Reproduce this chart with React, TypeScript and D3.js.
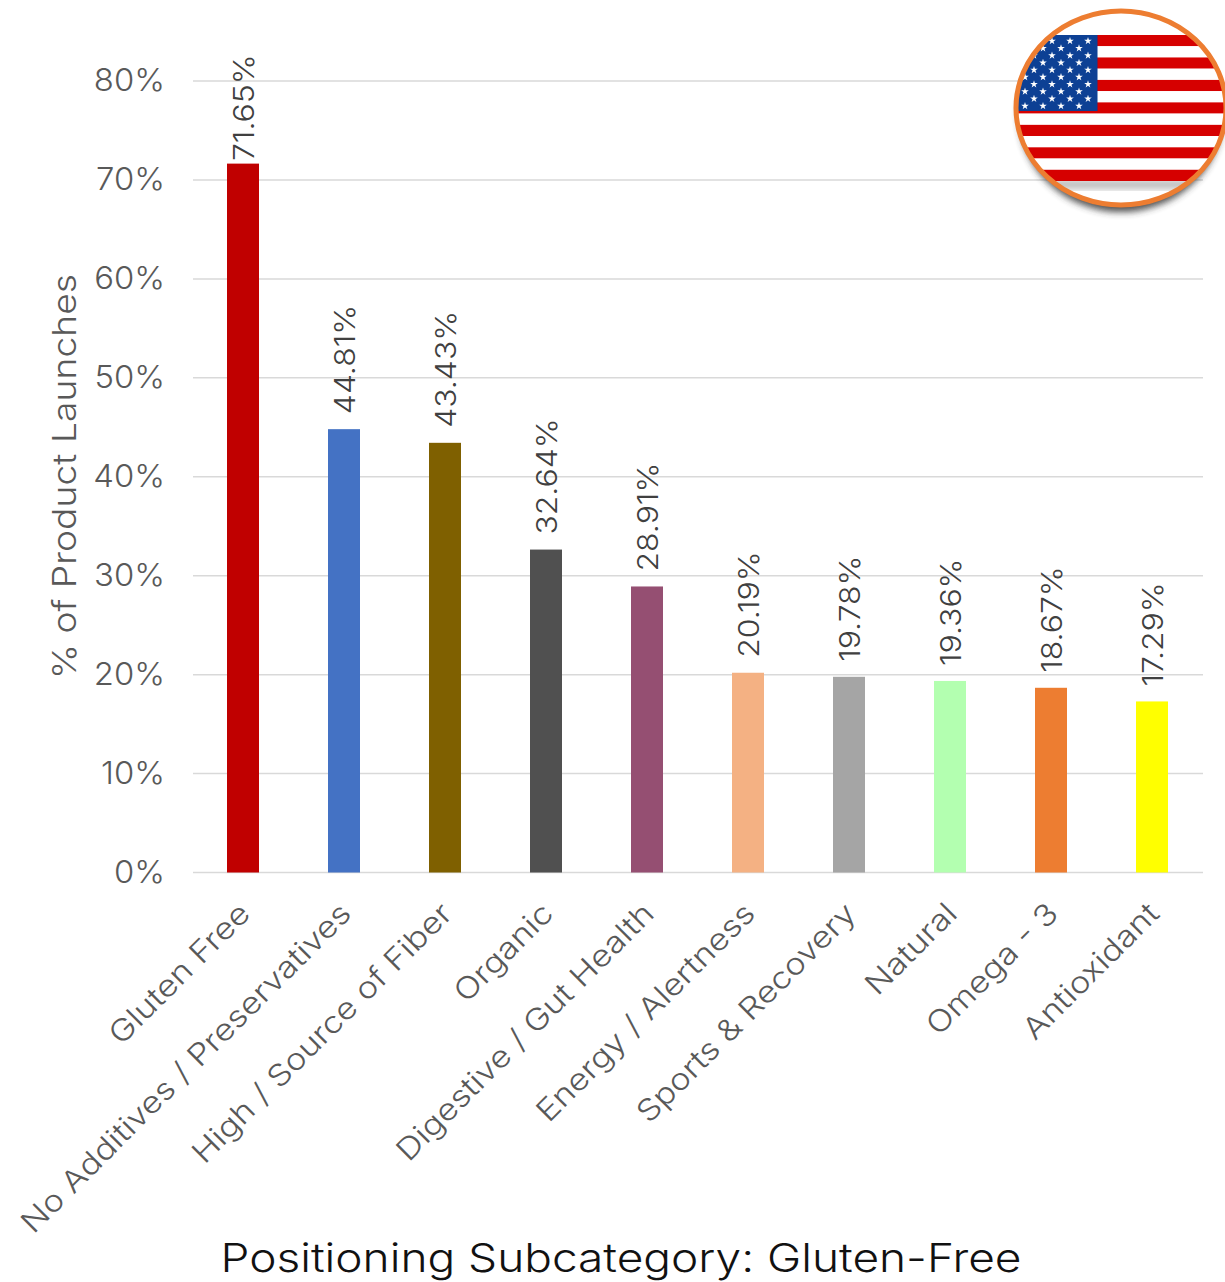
import React from "react";
import * as d3 from "d3";

const categories = [
  "Gluten Free",
  "No Additives / Preservatives",
  "High / Source of Fiber",
  "Organic",
  "Digestive / Gut Health",
  "Energy / Alertness",
  "Sports & Recovery",
  "Natural",
  "Omega - 3",
  "Antioxidant",
];
const shares = [71.65, 44.81, 43.43, 32.64, 28.91, 20.19, 19.78, 19.36, 18.67, 17.29];
const barColors = [
  "#c00000", "#4472c4", "#7f6000", "#505050", "#954f72",
  "#f4b183", "#a5a5a5", "#b3ffb0", "#ed7d31", "#ffff00",
];
const yTicks = [0, 10, 20, 30, 40, 50, 60, 70, 80];
const xTitle = "Positioning Subcategory: Gluten-Free";
const yTitle = "% of Product Launches";

const WIDTH = 1225;
const HEIGHT = 1282;
const FONT = "Inter, 'Noto Sans', sans-serif";

const x = d3.scaleBand<string>().domain(categories).range([193, 1203]);
const y = d3.scaleLinear().domain([0, 80]).range([872.5, 81]);
const BAR_WIDTH = 32;

// Value labels sit above their bar, but are held down so they stay inside the canvas.
const LABEL_GAP = 15;
const LABEL_LOWEST_START = 161;

// Badge flag: 13 stripes and a 10-row star field, clipped to the ring.
const stripeRows = d3.range(13);
const flagY = d3.scaleBand<number>().domain(stripeRows).range([35, 181]);
const starRows = d3.range(10);
const star = d3.symbol().type(d3.symbolStar).size(18)() as string;
const starY = d3.scaleLinear().domain([0, 9]).range([41, 106]);
const starX = d3.scaleLinear().domain([0, 7]).range([1025, 1088]);

function Flag() {
  const cx = 1121;
  const cy = 108;
  const rx = 105;
  const ry = 97;
  return (
    <g>
      <defs>
        <clipPath id="badge">
          <ellipse cx={cx} cy={cy} rx={rx} ry={ry} />
        </clipPath>
        <filter id="soft" x="-20%" y="-20%" width="140%" height="140%">
          <feGaussianBlur stdDeviation="3.5" />
        </filter>
        <filter id="flagEdge">
          <feGaussianBlur stdDeviation="0.6" />
        </filter>
      </defs>
      <ellipse cx={cx} cy={cy + 7} rx={rx - 3} ry={ry} fill="#333" opacity={0.85} filter="url(#soft)" />
      <ellipse cx={cx} cy={cy} rx={rx} ry={ry} fill="#fff" />
      <g clipPath="url(#badge)">
        <rect x={cx - 80} y={180} width={160} height={9} fill="#555" opacity={0.4} filter="url(#soft)" />
        <g filter="url(#flagEdge)">
          {stripeRows.map((r) => (
            <rect
              key={r}
              x={1005}
              y={flagY(r)}
              width={235}
              height={flagY.bandwidth()}
              fill={r % 2 === 0 ? "#d60000" : "#ffffff"}
            />
          ))}
          <rect x={1005} y={35} width={92.5} height={76} fill="#0a3f94" />
        </g>
        {starRows.map((r) =>
          d3.range(r % 2 === 0 ? 1 : 0, 8, 2).map((c) => (
            <path
              key={`${r}-${c}`}
              d={star}
              transform={`translate(${starX(c)},${starY(r)})`}
              fill="#fff"
            />
          ))
        )}
      </g>
      <ellipse cx={cx} cy={cy} rx={rx} ry={ry} fill="none" stroke="#ed7d31" strokeWidth={5} />
    </g>
  );
}

export default function App() {
  return (
    <svg
      width={WIDTH}
      height={HEIGHT}
      viewBox={`0 0 ${WIDTH} ${HEIGHT}`}
      style={{ position: "absolute", left: 0, top: 0, background: "#fff" }}
      fontFamily={FONT}
    >
      {yTicks.map((t) => (
        <g key={t}>
          <line x1={193} x2={1203} y1={y(t)} y2={y(t)} stroke="#d9d9d9" strokeWidth={1.5} />
          <text
            transform={`translate(165,${y(t) - 0.5}) scale(1.06,1)`}
            dy="0.35em"
            textAnchor="end"
            fontSize={31}
            fontWeight={300}
            fill="#595959"
          >
            {t}%
          </text>
        </g>
      ))}

      {categories.map((c, i) => {
        const cx = (x(c) as number) + x.bandwidth() / 2;
        const top = y(shares[i]);
        const labelStart = Math.max(top - LABEL_GAP, LABEL_LOWEST_START);
        return (
          <g key={c}>
            <rect x={Math.floor(cx - BAR_WIDTH / 2)} y={top} width={BAR_WIDTH} height={y(0) - top} fill={barColors[i]} />
            <text
              transform={`translate(${cx + 10},${labelStart}) rotate(-90) scale(1.1,1)`}
              fontSize={29}
              fontWeight={300}
              fill="#404040"
            >
              {shares[i].toFixed(2)}%
            </text>
            <text
              transform={`translate(${cx + 1},${908}) rotate(-45) scale(1.15,1)`}
              textAnchor="end"
              dy="0.35em"
              fontSize={30}
              fontWeight={300}
              fill="#595959"
            >
              {c}
            </text>
          </g>
        );
      })}

      <text
        transform="translate(76,476.5) rotate(-90) scale(1.13,1)"
        textAnchor="middle"
        fontSize={33}
        fontWeight={300}
        fill="#595959"
      >
        {yTitle}
      </text>
      <text
        transform="translate(621,1272) scale(1.15,1)"
        textAnchor="middle"
        fontSize={40}
        fontWeight={300}
        fill="#111"
      >
        {xTitle}
      </text>

      <Flag />
    </svg>
  );
}
